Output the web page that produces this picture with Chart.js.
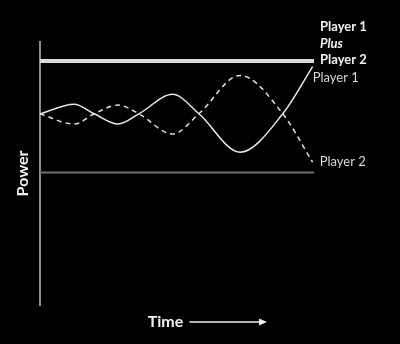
<!DOCTYPE html>
<html>
<head>
<meta charset="utf-8">
<script src="https://cdn.jsdelivr.net/npm/chart.js@4/dist/chart.umd.min.js"></script>
<style>
  html, body { margin: 0; padding: 0; background: #000; }
  #wrap { width: 400px; height: 344px; position: relative; background: #000; }
</style>
</head>
<body>
<div id="wrap"><canvas id="c" width="400" height="344"></canvas></div>
<script>
// ---- Data ----
const timeX    = [0, 12.5, 19.8, 28.5, 36.1, 48.4, 58.0, 73.0, 88.6, 99.5];
const player1  = [72.7, 76.3, 72.7, 68.8, 72.7, 80.1, 72.7, 58.1, 72.7, 90.6];
const player2  = [72.7, 68.8, 72.7, 76.0, 72.7, 65.0, 72.7, 87.3, 72.7, 54.3];
const combinedLevel = 92.8;   // Player 1 Plus Player 2
const baseLevel = 50.4;
const xRange = [0, 100];
const yRange = [0, 100];

const labels = {
  combined: ['Player 1', 'Plus', 'Player 2'],
  p1: 'Player 1',
  p2: 'Player 2',
  yTitle: 'Power',
  xTitle: 'Time'
};

const pts = (xs, ys) => xs.map((x, i) => ({ x: x, y: ys[i] }));

const textPlugin = {
  id: 'texts',
  afterDraw(chart) {
    const ctx = chart.ctx;
    const xs = chart.scales.x, ys = chart.scales.y;
    const area = chart.chartArea;
    ctx.save();
    ctx.fillStyle = '#f2f2f2';
    ctx.textBaseline = 'middle';
    ctx.textAlign = 'left';
    // combined label
    const cx = xs.getPixelForValue(xRange[1]) + 6;
    const cy = ys.getPixelForValue(combinedLevel);
    ctx.font = 'bold 13px Lato';
    ctx.fillText(labels.combined[0], cx, cy - 34);
    ctx.font = 'italic bold 13px Lato';
    ctx.fillText(labels.combined[1], cx, cy - 17);
    ctx.font = 'bold 13px Lato';
    ctx.fillText(labels.combined[2], cx, cy - 1);
    // series labels
    ctx.fillStyle = '#d9d9d9';
    ctx.font = '13px Lato';
    const n = timeX.length - 1;
    ctx.fillText(labels.p1, xs.getPixelForValue(timeX[n]) + 0, ys.getPixelForValue(player1[n]) + 11);
    ctx.fillText(labels.p2, xs.getPixelForValue(timeX[n]) + 7, ys.getPixelForValue(player2[n]) + 0);
    // y title
    ctx.fillStyle = '#f2f2f2';
    ctx.save();
    ctx.translate(22.5, (area.top + area.bottom) / 2);
    ctx.rotate(-Math.PI / 2);
    ctx.textAlign = 'center';
    ctx.font = 'bold 16px Lato';
    ctx.fillText(labels.yTitle, 0, 0);
    ctx.restore();
    // x title with arrow
    ctx.textAlign = 'center';
    ctx.font = 'bold 16px Lato';
    const ty = 322;
    ctx.fillText(labels.xTitle, 165.5, ty);
    ctx.strokeStyle = '#f2f2f2';
    ctx.lineWidth = 1.5;
    ctx.beginPath();
    ctx.moveTo(189.5, ty);
    ctx.lineTo(261, ty);
    ctx.stroke();
    ctx.beginPath();
    ctx.moveTo(267, ty);
    ctx.lineTo(259, ty - 3.5);
    ctx.lineTo(259, ty + 3.5);
    ctx.closePath();
    ctx.fill();
    ctx.restore();
  }
};

new Chart(document.getElementById('c'), {
  type: 'line',
  data: {
    datasets: [
      {
        label: 'combined',
        data: [{ x: xRange[0], y: combinedLevel }, { x: xRange[1], y: combinedLevel }],
        borderColor: '#d9d9d9', borderWidth: 4, pointRadius: 0, tension: 0
      },
      {
        label: 'base',
        data: [{ x: xRange[0], y: baseLevel }, { x: xRange[1], y: baseLevel }],
        borderColor: '#6e6e6e', borderWidth: 2, pointRadius: 0, tension: 0
      },
      {
        label: 'Player 1',
        data: pts(timeX, player1),
        borderColor: '#e8e8e8', borderWidth: 1.5, pointRadius: 0,
        cubicInterpolationMode: 'monotone'
      },
      {
        label: 'Player 2',
        data: pts(timeX, player2),
        borderColor: '#e0e0e0', borderWidth: 1.5, pointRadius: 0,
        borderDash: [5, 4],
        cubicInterpolationMode: 'monotone'
      }
    ]
  },
  options: {
    responsive: false,
    animation: false,
    devicePixelRatio: 1,
    layout: { padding: { left: 40, top: 42, right: 86, bottom: 39 } },
    plugins: { legend: { display: false }, tooltip: { enabled: false }, title: { display: false } },
    elements: { line: { capBezierPoints: true } },
    scales: {
      x: {
        type: 'linear', min: xRange[0], max: xRange[1],
        display: false
      },
      y: {
        type: 'linear', min: yRange[0], max: yRange[1],
        display: true,
        ticks: { display: false },
        grid: { display: false, drawTicks: false },
        border: { display: true, color: '#8c8c8c', width: 2 }
      }
    }
  },
  plugins: [textPlugin]
});
</script>
</body>
</html>
